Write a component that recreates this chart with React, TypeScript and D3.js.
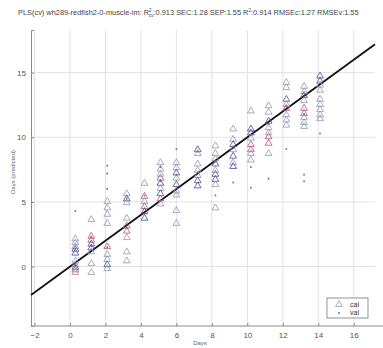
import React, { useEffect, useRef } from 'react';
import * as d3 from 'd3';

// sampling days (x) for each column of points
const days = [0.3, 1.2, 2.1, 3.2, 4.2, 5.1, 6.0, 7.2, 8.2, 9.2, 10.2, 11.2, 12.2, 13.2, 14.1];

// calibration predictions (triangles), one list per day
const calValues = [
  [2.2, 1.9, 1.6, 1.4, 1.1, 0.5, 0.2, 0.0, -0.2, -0.4],
  [3.7, 2.4, 2.1, 1.8, 1.5, 1.2, 0.3, -0.4],
  [5.1, 4.6, 4.1, 3.4, 1.6, 1.0, 0.6, 0.2, -0.1],
  [5.7, 5.3, 5.0, 3.8, 3.2, 2.8, 2.3, 1.2, 0.5],
  [6.5, 5.5, 5.1, 4.7, 4.3, 3.8],
  [8.1, 7.6, 7.2, 6.9, 6.5, 6.1, 5.7, 5.3, 4.9],
  [8.1, 7.7, 7.3, 6.9, 6.4, 5.9, 5.6, 4.4, 3.4],
  [9.1, 8.8, 8.0, 7.5, 7.1, 6.7, 6.3],
  [9.4, 8.8, 8.4, 8.0, 7.5, 7.2, 6.8, 6.4, 4.6],
  [10.7, 9.9, 9.5, 9.1, 8.6, 8.1, 7.8],
  [12.1, 10.7, 10.4, 10.0, 9.5, 9.1, 8.8, 8.3],
  [12.5, 12.0, 11.3, 10.8, 10.4, 10.1, 9.6, 8.8],
  [14.3, 13.9, 13.0, 12.6, 12.3, 11.8, 11.4, 11.0],
  [14.0, 13.6, 13.3, 12.9, 12.3, 11.9, 11.6, 11.2, 10.9],
  [14.8, 14.4, 14.1, 13.7, 13.0, 12.6, 12.2, 11.8, 11.5],
];

// tone of each triangle: g = grey, b = blue, r = red
const calTone = [
  ['g', 'g', 'g', 'b', 'b', 'g', 'g', 'b', 'r', 'g'],
  ['g', 'r', 'r', 'b', 'b', 'g', 'g', 'g'],
  ['g', 'g', 'g', 'g', 'r', 'g', 'g', 'b', 'g'],
  ['g', 'b', 'g', 'g', 'r', 'r', 'g', 'g', 'g'],
  ['g', 'r', 'g', 'r', 'b', 'b'],
  ['g', 'g', 'g', 'r', 'b', 'g', 'b', 'r', 'g'],
  ['g', 'g', 'b', 'g', 'b', 'g', 'g', 'g', 'g'],
  ['b', 'g', 'g', 'g', 'g', 'b', 'b'],
  ['g', 'g', 'g', 'b', 'g', 'b', 'b', 'g', 'g'],
  ['g', 'g', 'b', 'g', 'b', 'g', 'b'],
  ['g', 'b', 'b', 'g', 'r', 'r', 'g', 'g'],
  ['g', 'g', 'b', 'g', 'g', 'r', 'r', 'g'],
  ['g', 'g', 'b', 'g', 'r', 'g', 'g', 'g'],
  ['g', 'g', 'b', 'g', 'r', 'r', 'g', 'g', 'g'],
  ['b', 'b', 'g', 'g', 'g', 'g', 'g', 'g', 'g'],
];

// validation predictions (small dots), one list per day
const valValues = [
  [4.3, 1.4, 0.1],
  [2.3, 1.6],
  [7.8, 7.2, 6.0, 1.5],
  [5.3, 3.0],
  [5.5, 4.5],
  [7.7, 6.6],
  [9.1, 7.1],
  [8.9, 7.3],
  [5.5, 8.1],
  [6.5, 9.3],
  [7.7, 6.1, 10.2],
  [6.8, 11.0],
  [9.1, 12.4],
  [7.1, 6.6, 11.8],
  [10.3, 14.6],
];

const xTicks = [-2, 0, 2, 4, 6, 8, 10, 12, 14, 16];
const yTicks = [0, 5, 10, 15];

const toneColor: Record<string, string> = {
  g: '#9696b0',
  b: '#4a4a96',
  r: '#b45474',
};

const W = 383;
const H = 348;

const App = () => {
  const svgRef = useRef<SVGSVGElement>(null);

  useEffect(() => {
    const svg = d3.select(svgRef.current);
    svg.selectAll('*').remove();
    const font = 'Liberation Sans, Arial, sans-serif';

    const x = d3.scaleLinear().domain([-2.2, 17.2]).range([31, 375]);
    const y = d3.scaleLinear().domain([-4.6, 18.3]).range([326, 30]);

    // grid
    svg
      .append('g')
      .selectAll('line')
      .data(xTicks)
      .join('line')
      .attr('x1', (d) => x(d))
      .attr('x2', (d) => x(d))
      .attr('y1', y.range()[1])
      .attr('y2', y.range()[0])
      .attr('stroke', '#e2e2e2');
    svg
      .append('g')
      .selectAll('line')
      .data(yTicks)
      .join('line')
      .attr('x1', x.range()[0])
      .attr('x2', x.range()[1])
      .attr('y1', (d) => y(d))
      .attr('y2', (d) => y(d))
      .attr('stroke', '#e2e2e2');

    // axes
    const xAxis = svg
      .append('g')
      .attr('transform', `translate(0, ${y.range()[0]})`)
      .call(d3.axisBottom(x).tickValues(xTicks).tickSize(-3).tickPadding(6));
    xAxis.select('.domain').attr('stroke', '#8a8a8a').attr('d', `M${x.range()[0]},0H${W}`);
    const yAxis = svg
      .append('g')
      .attr('transform', `translate(${x.range()[0]}, 0)`)
      .call(d3.axisLeft(y).tickValues(yTicks).tickSize(-3).tickPadding(5));
    yAxis.select('.domain').attr('stroke', '#8a8a8a');
    [xAxis, yAxis].forEach((a) => {
      a.selectAll('.tick line').attr('stroke', '#8a8a8a');
      a.selectAll('.tick text')
        .attr('fill', '#555')
        .attr('font-size', 8)
        .attr('font-family', font);
    });

    // 1:1 line
    svg
      .append('line')
      .attr('x1', x(-2.2))
      .attr('y1', y(-2.2))
      .attr('x2', x(17.2))
      .attr('y2', y(17.2))
      .attr('stroke', '#111')
      .attr('stroke-width', 1.8);

    const tri = d3.symbol().type(d3.symbolTriangle).size(20);

    const calPts = days.flatMap((d, i) =>
      calValues[i].map((v, j) => ({ d, v, t: calTone[i][j] })),
    );
    svg
      .append('g')
      .selectAll('path')
      .data(calPts)
      .join('path')
      .attr('d', tri)
      .attr('transform', (p) => `translate(${x(p.d)}, ${y(p.v) + 0.8})`)
      .attr('fill', 'none')
      .attr('stroke', (p) => toneColor[p.t])
      .attr('stroke-width', 0.8);

    const valPts = days.flatMap((d, i) => valValues[i].map((v) => ({ d, v })));
    svg
      .append('g')
      .selectAll('circle')
      .data(valPts)
      .join('circle')
      .attr('cx', (p) => x(p.d))
      .attr('cy', (p) => y(p.v))
      .attr('r', 0.9)
      .attr('fill', '#6a6a80');

    // labels
    svg
      .append('text')
      .attr('x', 200)
      .attr('y', 345)
      .attr('text-anchor', 'middle')
      .attr('font-size', 6)
      .attr('fill', '#666')
      .attr('font-family', font)
      .text('Days');
    svg
      .append('text')
      .attr('transform', `translate(15, 172) rotate(-90)`)
      .attr('text-anchor', 'middle')
      .attr('font-size', 6)
      .attr('fill', '#666')
      .attr('font-family', font)
      .text('Days (predicted)');

    const title = svg
      .append('text')
      .attr('x', 18)
      .attr('y', 15)
      .attr('font-size', 7.4)
      .attr('fill', '#444')
      .attr('font-family', font);
    title.append('tspan').text('PLS(cv) wh289-redfish2-0-muscle-im: R');
    title.append('tspan').attr('dy', -3).attr('font-size', 4.5).text('2');
    title.append('tspan').attr('dx', -2.5).attr('dy', 5).attr('font-size', 4.5).text('cv');
    title.append('tspan').attr('dy', -2).text(':0.913 SEC:1.28 SEP:1.55 R');
    title.append('tspan').attr('dy', -3).attr('font-size', 4.5).text('2');
    title.append('tspan').attr('dy', 3).text(':0.914 RMSEc:1.27 RMSEv:1.55');

    // legend
    const lg = svg.append('g').attr('transform', 'translate(327, 298)');
    lg.append('rect')
      .attr('width', 41)
      .attr('height', 20)
      .attr('fill', '#fff')
      .attr('stroke', '#777')
      .attr('stroke-width', 0.8);
    lg.append('path')
      .attr('d', tri)
      .attr('transform', 'translate(12, 6.5)')
      .attr('fill', 'none')
      .attr('stroke', '#9696b0')
      .attr('stroke-width', 0.8);
    lg.append('circle').attr('cx', 12).attr('cy', 15).attr('r', 0.9).attr('fill', '#6a6a80');
    lg.append('text')
      .attr('x', 23)
      .attr('y', 8.5)
      .attr('font-size', 7)
      .attr('fill', '#333')
      .attr('font-family', font)
      .text('cal');
    lg.append('text')
      .attr('x', 23)
      .attr('y', 17)
      .attr('font-size', 7)
      .attr('fill', '#333')
      .attr('font-family', font)
      .text('val');
  }, []);

  return (
    <svg
      ref={svgRef}
      width={W}
      height={H}
      style={{ position: 'absolute', left: 0, top: 0, background: '#fff' }}
    />
  );
};

export default App;
